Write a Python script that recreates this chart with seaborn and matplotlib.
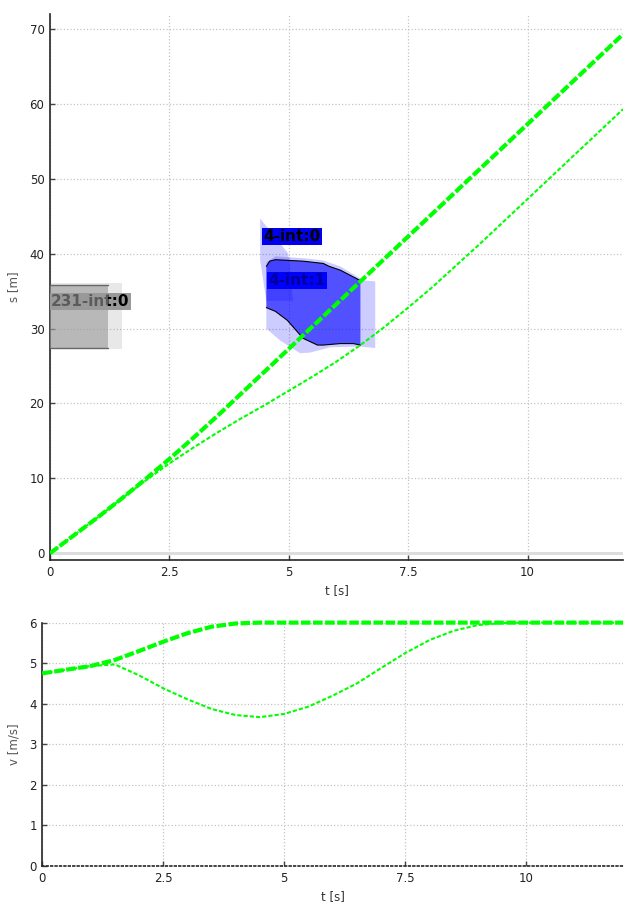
import numpy as np
import pandas as pd
import matplotlib
matplotlib.use('Agg')
import matplotlib.pyplot as plt
from matplotlib.ticker import FuncFormatter
import seaborn as sns

# time grid
t = [0, 0.5, 1.0, 1.5, 2.0, 2.5, 3.0, 3.5, 4.0, 4.5, 5.0, 5.5, 6.0, 6.5,
     7.0, 7.5, 8.0, 8.5, 9.0, 9.5, 10.0, 10.5, 11.0, 11.5, 12.0]

# position of the two trajectories [m]
s_fast = [0, 2.4, 4.8, 7.3, 9.9, 12.6, 15.4, 18.3, 21.3, 24.3, 27.3, 30.3, 33.3,
          36.3, 39.3, 42.3, 45.3, 48.3, 51.3, 54.3, 57.3, 60.3, 63.3, 66.3, 69.3]
s_slow = [0, 2.4, 4.8, 7.3, 9.7, 12.0, 14.1, 16.1, 18.0, 19.8, 21.7, 23.6, 25.6,
          27.8, 30.2, 32.8, 35.5, 38.4, 41.3, 44.3, 47.3, 50.3, 53.3, 56.3, 59.3]

# velocity of the two trajectories [m/s]
v_fast = [4.75, 4.84, 4.93, 5.08, 5.30, 5.53, 5.74, 5.90, 5.98, 6.0, 6.0, 6.0, 6.0,
          6.0, 6.0, 6.0, 6.0, 6.0, 6.0, 6.0, 6.0, 6.0, 6.0, 6.0, 6.0]
v_slow = [4.75, 4.84, 4.93, 4.97, 4.70, 4.38, 4.11, 3.87, 3.72, 3.67, 3.75, 3.93, 4.20,
          4.50, 4.88, 5.25, 5.57, 5.80, 5.94, 5.99, 6.0, 6.0, 6.0, 6.0, 6.0]

# obstacle 231 (static box at the left)
obs231_x = [-0.5, 1.21, 1.21, -0.5]
obs231_y = [27.45, 27.45, 35.85, 35.85]
obs231_hull_x = [-0.5, 1.50, 1.50, -0.5]
obs231_hull_y = [27.25, 27.25, 36.07, 36.07]

# obstacle 4 occupancy bounds
obs4_top_t = [4.53, 4.60, 4.72, 5.30, 5.72, 5.85, 6.08, 6.50]
obs4_top_s = [38.3, 39.0, 39.2, 39.0, 38.7, 38.3, 37.8, 36.4]
obs4_bot_t = [4.53, 4.72, 4.97, 5.30, 5.60, 5.72, 6.08, 6.35, 6.50]
obs4_bot_s = [32.8, 32.3, 31.1, 28.7, 27.8, 27.8, 28.0, 28.0, 27.8]

obs4_a_t = [4.40, 4.99, 5.09, 4.53, 4.40]
obs4_a_s = [44.7, 40.0, 33.7, 33.7, 39.1]
obs4_b_t = [4.53, 4.72, 5.30, 5.72, 6.08, 6.56, 6.81, 6.81, 6.50, 5.87, 5.45, 5.24, 4.82, 4.53]
obs4_b_s = [38.85, 39.65, 39.4, 39.1, 38.3, 36.45, 36.3, 27.4, 27.6, 27.5, 26.8, 26.7, 28.4, 30.0]

labels = ['231-int:0', '4-int:0', '4-int:1']
label_t = [0.02, 4.47, 4.57]
label_s = [33.6, 42.3, 36.45]
label_fc = ['#999999', '#0000ee', '#0000ff']

sns.set_theme(style='ticks')
plt.rcParams['font.family'] = ['DejaVu Sans']

df = pd.DataFrame({'t': t, 's_fast': s_fast, 's_slow': s_slow,
                   'v_fast': v_fast, 'v_slow': v_slow})

fig = plt.figure(figsize=(6.3, 9.05), dpi=100)
ax1 = fig.add_axes([0.0794, 0.3812, 0.9096, 0.6033])
ax2 = fig.add_axes([0.0671, 0.0431, 0.9219, 0.2689])

thick = dict(color='#00ff00', lw=3, dashes=(2.3, 0.6))
thin = dict(color='#00ff00', lw=1.5, dashes=(2.0, 1.0))

# --- s-t plot
ax1.axhline(0, color='#dddddd', lw=2.2, zorder=1)
ax1.fill(obs231_hull_x, obs231_hull_y, color='#999999', alpha=0.22, lw=0, zorder=2)
ax1.fill(obs4_a_t, obs4_a_s, color='#0000ff', alpha=0.2, lw=0, zorder=2)
ax1.fill(obs4_b_t, obs4_b_s, color='#0000ff', alpha=0.2, lw=0, zorder=2)

for lab, x, y, fc in zip(labels, label_t, label_s, label_fc):
    ax1.text(x, y, lab, fontsize=11, fontweight='bold', color='black', va='center', ha='left',
             zorder=3, bbox=dict(boxstyle='square,pad=0.08', fc=fc, ec='none'))

ax1.fill(obs231_x, obs231_y, color='#999999', alpha=0.6, lw=0, zorder=4)
ax1.plot([-0.5, 1.21], [35.85, 35.85], color='#666666', lw=1, zorder=4)
ax1.plot([-0.5, 1.21], [27.45, 27.45], color='#666666', lw=1, zorder=4)

poly_t = obs4_top_t + obs4_bot_t[::-1]
poly_s = obs4_top_s + obs4_bot_s[::-1]
ax1.fill(poly_t, poly_s, color='#0000ff', alpha=0.6, lw=0, zorder=4)
ax1.plot(obs4_top_t, obs4_top_s, color='black', lw=0.8, zorder=4)
ax1.plot(obs4_bot_t, obs4_bot_s, color='black', lw=0.8, zorder=4)

sns.lineplot(data=df, x='t', y='s_slow', ax=ax1, zorder=5, **thin)
sns.lineplot(data=df, x='t', y='s_fast', ax=ax1, zorder=6, **thick)

ax1.set_xlim(0, 12)
ax1.set_ylim(-0.9, 72)
ax1.set_yticks(range(0, 71, 10))

# --- v-t plot
sns.lineplot(data=df, x='t', y='v_slow', ax=ax2, zorder=5, clip_on=False, **thin)
sns.lineplot(data=df, x='t', y='v_fast', ax=ax2, zorder=6, clip_on=False, **thick)
ax2.set_xlim(0, 12)
ax2.set_ylim(0, 6)
ax2.set_yticks(range(0, 7))
ax2.spines['bottom'].set_linestyle(':')

fmt = FuncFormatter(lambda v, p: ('%g' % v))
for ax, yl in [(ax1, 's [m]'), (ax2, 'v [m/s]')]:
    ax.set_xticks([0, 2.5, 5, 7.5, 10])
    ax.xaxis.set_major_formatter(fmt)
    ax.grid(True, color='#c4c4c4', linestyle=':', lw=0.9)
    ax.set_axisbelow(True)
    for side in ['top', 'right']:
        ax.spines[side].set_visible(False)
    ax.spines['left'].set_linewidth(1.2)
    ax.spines['bottom'].set_linewidth(1.2)
    ax.tick_params(direction='in', length=3.5, width=1, color='#444444',
                   labelsize=8.5, labelcolor='#222222', pad=4)
    ax.set_xlabel('t [s]', fontsize=8.5, color='#333333', labelpad=4)
    ax.set_ylabel(yl, fontsize=8.5, color='#555555', labelpad=8)

ax1.yaxis.set_label_coords(-0.052, 0.5)
ax2.yaxis.set_label_coords(-0.038, 0.5)

fig.savefig('out.png', dpi=100)
